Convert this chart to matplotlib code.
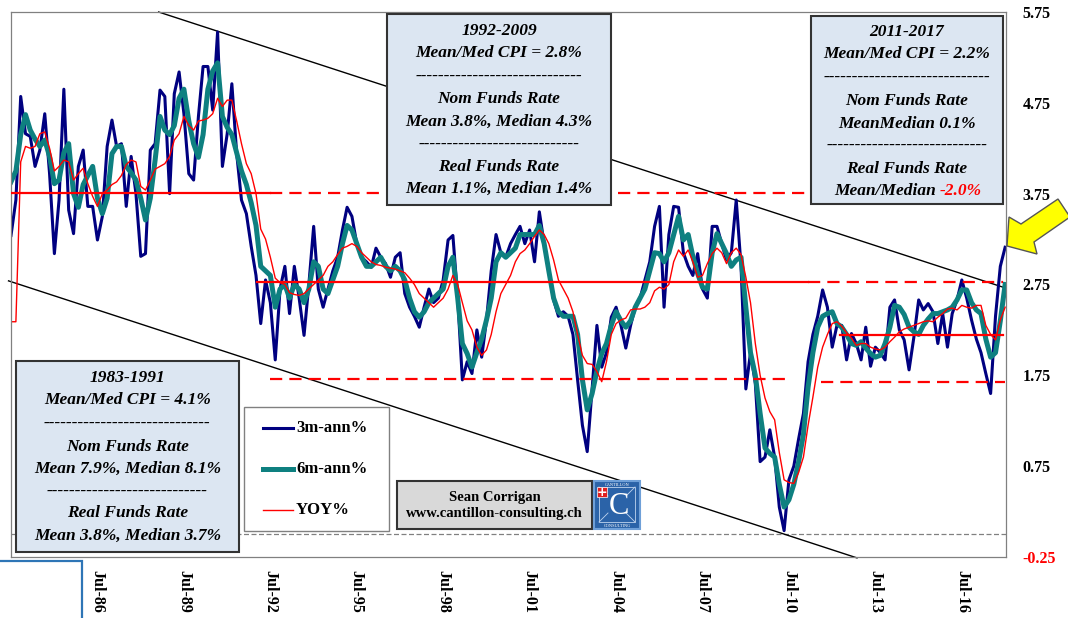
import numpy as np
import pandas as pd
import matplotlib
matplotlib.use('Agg')
import matplotlib.pyplot as plt
from matplotlib.patches import Rectangle, Polygon
from matplotlib.lines import Line2D

# bi-monthly observations, Jul-1983 .. Jan-2018
dates = pd.date_range('1983-07-01', '2018-01-01', freq='2MS')

cpi_3m = [
    3.29, 3.68, 4.82,
    4.41, 4.38, 4.05, 4.23, 4.63, 3.97,
    3.09, 3.68, 4.90, 3.57, 3.31, 4.05,
    4.23, 3.61, 3.61, 3.24, 3.50, 4.27,
    4.56, 4.27, 4.30, 3.61, 4.16, 3.75,
    3.06, 3.09, 4.23, 4.30, 4.89, 4.82,
    3.75, 4.85, 5.09, 4.63, 3.97, 3.90,
    4.60, 5.15, 5.15, 4.67, 5.53, 4.05,
    4.41, 4.96, 4.19, 3.68, 3.53, 3.17,
    2.85, 2.32, 2.80, 2.55, 1.92, 2.70,
    2.95, 2.43, 2.95, 2.60, 2.19, 2.75,
    3.39, 2.70, 2.50, 2.70, 2.90, 3.05,
    3.35, 3.60, 3.50, 3.20, 3.05, 3.00,
    2.94, 3.15, 3.05, 2.98, 2.83, 3.05,
    3.10, 2.65, 2.50, 2.40, 2.28, 2.50,
    2.70, 2.55, 2.60, 2.80, 3.24, 3.29,
    2.60, 1.70, 1.90, 1.77, 2.25, 1.95,
    2.36, 2.90, 3.30, 3.10, 3.05, 3.20,
    3.30, 3.39, 3.20, 3.35, 3.00, 3.55,
    3.20, 2.90, 2.58, 2.40, 2.45, 2.40,
    2.20, 1.70, 1.20, 0.91, 1.60, 2.30,
    1.84, 2.00, 2.39, 2.50, 2.30, 2.05,
    2.30, 2.50, 2.60, 2.80, 3.00, 3.39,
    3.61, 2.50, 3.30, 3.61, 3.60, 3.10,
    2.95, 2.85, 3.09, 2.70, 2.60, 3.39,
    3.39, 3.20, 3.02, 3.10, 3.68, 2.95,
    1.60, 2.00, 1.66, 0.80, 0.85, 1.15,
    0.85, 0.30, 0.04, 0.60, 0.75, 1.05,
    1.33, 1.90, 2.20, 2.40, 2.69, 2.50,
    2.06, 2.30, 2.30, 1.92, 2.21, 2.10,
    1.92, 2.28, 1.85, 2.06, 2.00, 1.92,
    2.50, 2.58, 2.25, 2.14, 1.81, 2.17,
    2.58, 2.47, 2.54, 2.45, 2.10, 2.43,
    2.06, 2.43, 2.58, 2.80, 2.60, 2.36,
    2.15, 2.00, 1.77, 1.55, 2.40, 2.95,
    3.16,
]

cpi_6m = [
    3.88, 4.00, 4.40,
    4.62, 4.45, 4.35, 4.27, 4.34, 4.16,
    3.86, 3.90, 4.20, 4.30, 3.75, 3.60,
    3.85, 3.95, 4.05, 3.70, 3.53, 3.70,
    4.19, 4.27, 4.27, 4.05, 3.98, 3.90,
    3.70, 3.46, 3.70, 4.12, 4.60, 4.45,
    4.40, 4.50, 4.80, 4.90, 4.55, 4.30,
    4.15, 4.40, 4.90, 5.10, 5.19, 4.60,
    4.48, 4.40, 4.20, 4.00, 3.85, 3.65,
    3.40, 2.95, 2.90, 2.85, 2.50, 2.70,
    2.75, 2.60, 2.75, 2.70, 2.55, 2.70,
    3.00, 2.95, 2.70, 2.65, 2.80, 2.95,
    3.20, 3.40, 3.35, 3.20, 3.05, 2.95,
    2.95, 3.00, 3.05, 2.95, 2.90, 2.95,
    2.90, 2.80, 2.60, 2.45, 2.39, 2.45,
    2.55, 2.60, 2.65, 2.70, 2.95, 3.05,
    2.60, 2.10, 1.99, 1.84, 2.00, 2.15,
    2.36, 2.60, 3.00, 3.10, 3.05, 3.10,
    3.15, 3.30, 3.30, 3.30, 3.30, 3.40,
    3.20, 2.90, 2.60, 2.45, 2.40, 2.40,
    2.40, 2.20, 1.70, 1.37, 1.55, 1.80,
    1.99, 2.10, 2.30, 2.45, 2.35, 2.28,
    2.35, 2.50, 2.60, 2.70, 2.90, 3.10,
    3.09, 3.00, 3.10, 3.30, 3.50, 3.24,
    3.30, 3.06, 2.87, 2.72, 2.70, 3.10,
    3.31, 3.20, 3.09, 2.95, 3.02, 3.05,
    2.50, 2.00, 1.75, 1.33, 0.95, 0.89,
    0.85, 0.55, 0.30, 0.38, 0.55, 0.80,
    1.10, 1.62, 2.00, 2.28, 2.40, 2.43,
    2.45, 2.32, 2.28, 2.20, 2.10, 2.08,
    2.12, 2.05, 1.99, 1.95, 1.97, 2.10,
    2.28, 2.52, 2.50, 2.42, 2.28, 2.23,
    2.20, 2.30, 2.37, 2.43, 2.43, 2.45,
    2.47, 2.50, 2.58, 2.69, 2.69, 2.55,
    2.47, 2.43, 2.15, 1.95, 2.00, 2.35,
    2.75,
]

cpi_yoy = [
    2.34, 2.34, 4.10,
    4.27, 4.25, 4.27, 4.41, 4.43, 4.25,
    4.00, 4.05, 4.12, 4.10, 3.90, 3.97,
    4.03, 3.86, 3.72, 3.61, 3.75, 3.79,
    3.85, 3.88, 3.95, 4.07, 4.12, 4.10,
    3.83, 3.79, 3.90, 4.02, 4.05, 4.08,
    4.16, 4.34, 4.41, 4.60, 4.50, 4.45,
    4.55, 4.56, 4.58, 4.63, 4.80, 4.71,
    4.78, 4.78, 4.55, 4.30, 4.08, 3.97,
    3.75, 3.36, 3.25, 3.05, 2.82, 2.77,
    2.75, 2.66, 2.64, 2.63, 2.65, 2.70,
    2.75, 2.80, 2.85, 2.95, 3.00, 3.08,
    3.15, 3.17, 3.20, 3.17, 3.10, 3.05,
    3.00, 2.97, 2.96, 2.94, 2.93, 2.92,
    2.90, 2.88, 2.82, 2.75, 2.65, 2.60,
    2.55, 2.50, 2.55, 2.60, 2.70, 2.85,
    2.75, 2.55, 2.35, 2.25, 2.06, 1.97,
    2.03, 2.20, 2.45, 2.65, 2.75, 2.85,
    3.00, 3.09, 3.13, 3.20, 3.28, 3.35,
    3.30, 3.20, 3.02, 2.80, 2.70, 2.60,
    2.45, 2.20, 1.97, 1.88, 1.87, 1.79,
    1.68, 1.90, 2.20, 2.32, 2.36, 2.38,
    2.47, 2.48, 2.48, 2.50, 2.55, 2.68,
    2.72, 2.70, 2.75, 3.00, 3.13, 3.06,
    3.13, 3.00, 2.83, 2.85, 2.98, 3.09,
    3.15, 3.10, 2.98, 3.10, 3.15, 3.08,
    2.83, 2.55, 2.10, 1.75, 1.50, 1.35,
    1.26, 0.90, 0.60, 0.57, 0.56, 0.68,
    0.85, 1.20, 1.51, 1.84, 2.06, 2.20,
    2.32, 2.34, 2.29, 2.22, 2.16, 2.08,
    2.10, 2.10, 2.06, 2.04, 2.03, 2.06,
    2.12, 2.17, 2.23, 2.26, 2.28, 2.30,
    2.32, 2.34, 2.35, 2.34, 2.39, 2.43,
    2.48, 2.49, 2.47, 2.52, 2.50, 2.49,
    2.52, 2.52, 2.30, 2.20, 2.14, 2.36,
    2.50,
]

series_labels = ['3m-ann%', '6m-ann%', 'YOY%']
y_ticks = [5.75, 4.75, 3.75, 2.75, 1.75, 0.75, -0.25]
x_tick_labels = ['Jul-86', 'Jul-89', 'Jul-92', 'Jul-95', 'Jul-98', 'Jul-01',
                 'Jul-04', 'Jul-07', 'Jul-10', 'Jul-13', 'Jul-16']

# period statistics (horizontal reference lines): (start, end, level)
period_means = [(1983.5, 1992.5, 3.76), (1992.02, 2011.17, 2.78), (2012.27, 2017.93, 2.19)]
band_lines = [(1992.5, 2017.93, 3.76), (2011.17, 2017.93, 2.78),
              (1992.5, 2010.4, 1.71), (2011.6, 2018.0, 1.68)]
# channel (trend) lines: ((t0, y0), (t1, y1))
channel = [((1988.62, 5.75), (2017.93, 2.72)), ((1983.41, 2.79), (2012.86, -0.26))]

box_texts = [
    ['1992-2009', 'Mean/Med CPI = 2.8%', '-' * 29, 'Nom Funds Rate',
     'Mean 3.8%, Median 4.3%', '-' * 28, 'Real Funds Rate', 'Mean 1.1%, Median 1.4%'],
    ['2011-2017', 'Mean/Med CPI = 2.2%', '-' * 29, 'Nom Funds Rate',
     'MeanMedian 0.1%', '-' * 28, 'Real Funds Rate', None],
    ['1983-1991', 'Mean/Med CPI = 4.1%', '-' * 29, 'Nom Funds Rate',
     'Mean 7.9%, Median 8.1%', '-' * 28, 'Real Funds Rate', 'Mean 3.8%, Median 3.7%'],
]

W, H = 1068, 618
NAVY, TEAL, RED = '#000080', '#0E8080', '#FF0000'
SERIF = ['Liberation Serif', 'DejaVu Serif']


def fx(px):
    return px / W


def fy(py):
    return 1 - py / H


def yr(t):
    y = int(t)
    return pd.Timestamp(year=y, month=1, day=1) + pd.Timedelta(days=(t - y) * 365.25)


fig = plt.figure(figsize=(W / 100, H / 100), dpi=100)
ax = fig.add_axes([fx(11), fy(557), (1006 - 11) / W, (557 - 12) / H])

ax.plot(dates, cpi_3m, color=NAVY, lw=2.2, label=series_labels[0], zorder=2)
ax.plot(dates, cpi_6m, color=TEAL, lw=3.6, label=series_labels[1], zorder=2.1)
ax.plot(dates, cpi_yoy, color=RED, lw=1.0, label=series_labels[2], zorder=2.2)

for t0, t1, lev in period_means:
    ax.plot([yr(t0), yr(t1)], [lev, lev], color=RED, lw=1.6, zorder=3)
for t0, t1, lev in band_lines:
    ax.plot([yr(t0), yr(t1)], [lev, lev], color=RED, lw=1.6, ls=(0, (5.5, 3.2)), zorder=3)
ax.axhline(0, color='#808080', lw=0.9, ls=(0, (4, 2)), zorder=1)
for (t0, y0), (t1, y1) in channel:
    ax.plot([yr(t0), yr(t1)], [y0, y1], color='black', lw=1.0, clip_on=False, zorder=1.5)

ax.set_xlim(pd.Timestamp('1983-07-01'), pd.Timestamp('2018-01-12'))
ax.set_ylim(-0.25, 5.75)
ax.set_xticks(pd.date_range('1986-07-01', periods=len(x_tick_labels), freq='36MS'))
ax.set_xticklabels(x_tick_labels, rotation=270, fontsize=11.5, fontweight='bold', family=SERIF)
ax.yaxis.tick_right()
ax.set_yticks(y_ticks)
ax.set_yticklabels(['%.2f' % v for v in y_ticks], fontsize=11.5, fontweight='bold', family=SERIF)
ax.get_yticklabels()[-1].set_color(RED)
ax.tick_params(axis='x', length=0, pad=9)
ax.tick_params(axis='y', length=0, pad=12)
for sp in ax.spines.values():
    sp.set_color('#808080')
    sp.set_linewidth(0.9)

# statistic boxes
boxes = [(387, 14, 611, 205, 499), (811, 16, 1003, 204, 907), (16, 361, 239, 552, 127.5)]
line_y = [[30.7, 53.3, 76.7, 99.3, 122, 145, 166.7, 189.3],
          [31.7, 54.3, 78.3, 101, 124, 146, 169.3, 190.7],
          [378.3, 400, 424, 446.7, 469.3, 491.7, 513.3, 536]]
for (x0, y0, x1, y1, xc), lines, ys in zip(boxes, box_texts, line_y):
    fig.add_artist(Rectangle((fx(x0), fy(y1)), (x1 - x0) / W, (y1 - y0) / H,
                             transform=fig.transFigure, facecolor='#DCE6F2',
                             edgecolor='#333333', lw=1.5, zorder=5))
    for s, yy in zip(lines, ys):
        if s is None:
            continue
        fig.text(fx(xc), fy(yy), s, ha='center', va='center', fontsize=12.5,
                 fontweight='bold', fontstyle='italic', family=SERIF, zorder=6)
fig.text(fx(936), fy(190.7), 'Mean/Median', ha='right', va='center', fontsize=12.5,
         fontweight='bold', fontstyle='italic', family=SERIF, zorder=6)
fig.text(fx(940), fy(190.7), '-2.0%', ha='left', va='center', fontsize=12.5, color=RED,
         fontweight='bold', fontstyle='italic', family=SERIF, zorder=6)

# legend
fig.add_artist(Rectangle((fx(244), fy(531)), 145 / W, 124 / H, transform=fig.transFigure,
                         facecolor='white', edgecolor='#808080', lw=1.0, zorder=5))
for line, yy in zip(ax.get_lines()[:3], [428, 469, 510]):
    fig.add_artist(Line2D([fx(263), fx(293)], [fy(yy), fy(yy)], color=line.get_color(),
                          lw=line.get_linewidth(), transform=fig.transFigure, zorder=6))
    fig.text(fx(296), fy(yy), line.get_label(), ha='left', va='center', fontsize=12,
             fontweight='bold', family=SERIF, zorder=6)

# author box and logo
fig.add_artist(Rectangle((fx(397), fy(529)), 195 / W, 48 / H, transform=fig.transFigure,
                         facecolor='#D9D9D9', edgecolor='#333333', lw=1.5, zorder=5))
fig.text(fx(494.5), fy(497), 'Sean Corrigan', ha='center', va='center', fontsize=10.5,
         fontweight='bold', family=SERIF, zorder=6)
fig.text(fx(494.5), fy(514), 'www.cantillon-consulting.ch', ha='center', va='center',
         fontsize=10.5, fontweight='bold', family=SERIF, zorder=6)
fig.add_artist(Rectangle((fx(594), fy(529)), 46 / W, 48 / H, transform=fig.transFigure,
                         facecolor='#2B63A8', edgecolor='#6FA0D8', lw=1.5, zorder=5))
fig.add_artist(Rectangle((fx(599), fy(522)), 36 / W, 35 / H, transform=fig.transFigure,
                         facecolor='none', edgecolor='#BFD4EE', lw=0.6, zorder=6))
for (ax0, ay0), (ax1, ay1) in [((599, 487), (608, 496)), ((635, 487), (626, 496)),
                               ((599, 522), (608, 513)), ((635, 522), (626, 513))]:
    fig.add_artist(Line2D([fx(ax0), fx(ax1)], [fy(ay0), fy(ay1)], color='#BFD4EE', lw=0.6,
                          transform=fig.transFigure, zorder=6))
fig.add_artist(Rectangle((fx(597), fy(497)), 10 / W, 10 / H, transform=fig.transFigure,
                         facecolor='#E02020', edgecolor='white', lw=0.5, zorder=7))
fig.text(fx(602), fy(492.5), '+', ha='center', va='center', color='white', fontsize=9,
         fontweight='bold', zorder=8)
fig.text(fx(619), fy(506), 'C', ha='center', va='center', color='white', fontsize=22,
         family=SERIF, zorder=7)
fig.text(fx(617), fy(484.5), 'CANTILLON', ha='center', va='center', color='white',
         fontsize=3.2, family=SERIF, zorder=7)
fig.text(fx(617), fy(526), 'CONSULTING', ha='center', va='center', color='white',
         fontsize=3.2, family=SERIF, zorder=7)

# yellow block arrow pointing at the latest reading
arrow_px = [(1007, 246), (1009, 217), (1021, 224), (1058, 199), (1070, 217),
            (1034, 242), (1037, 254)]
fig.add_artist(Polygon([(fx(a), fy(b)) for a, b in arrow_px], closed=True,
                       transform=fig.transFigure, facecolor='#FFFF00',
                       edgecolor='#555555', lw=1.0, zorder=7))

# partial frame bottom-left
fig.add_artist(Rectangle((fx(-5), fy(640)), 87 / W, 79 / H, transform=fig.transFigure,
                         facecolor='none', edgecolor='#2E75B6', lw=1.6, zorder=5,
                         clip_on=False))

plt.savefig('out.png', dpi=100)
